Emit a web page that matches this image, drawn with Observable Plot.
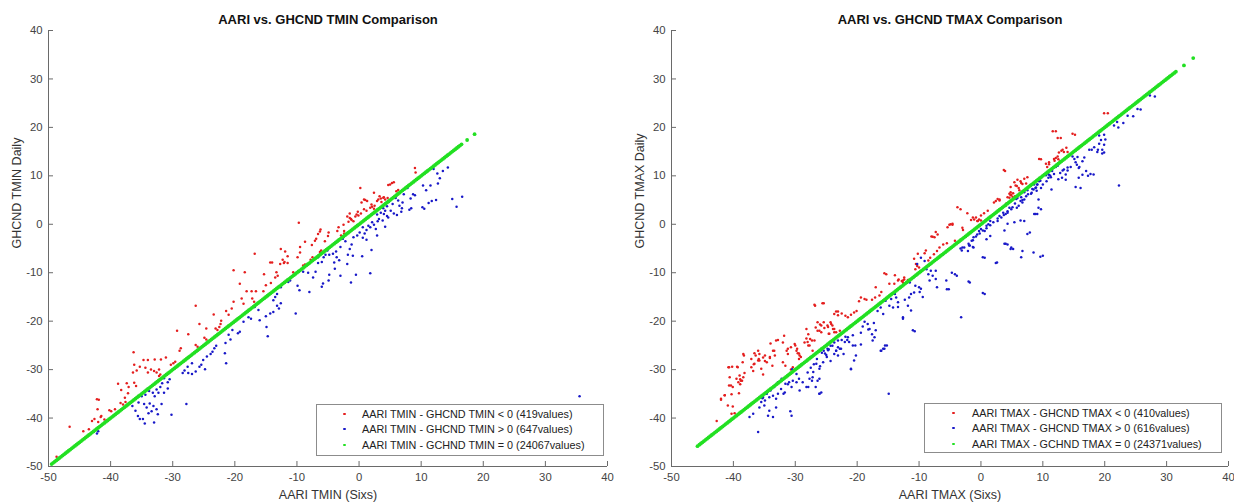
<!DOCTYPE html>
<html><head><meta charset="utf-8">
<script src="https://cdn.jsdelivr.net/npm/d3@7"></script>
<script src="https://cdn.jsdelivr.net/npm/@observablehq/plot@0.6"></script>
<style>
body{margin:0;background:#fff;}
#wrap{position:relative;width:1234px;height:504px;font-family:"Liberation Sans",Arial,sans-serif;overflow:hidden;}
.panel{position:absolute;top:0;}
.legend{position:absolute;border:1px solid #8c8c8c;background:#fff;font-size:10.8px;color:#222;box-sizing:border-box;}
.legend .dot{position:absolute;width:2.6px;height:2.6px;border-radius:50%;}
.legend .txt{position:absolute;}
</style></head>
<body><div id="wrap"></div>
<script>
// ---------- data ----------
const axisDomain = [-50, 40];
const tickValues = [-50, -40, -30, -20, -10, 0, 10, 20, 30, 40];

const tminTitle = "AARI vs. GHCND TMIN Comparison";
const tmaxTitle = "AARI vs. GHCND TMAX Comparison";
const tminXLabel = "AARI TMIN (Sixs)";
const tminYLabel = "GHCND TMIN Daily";
const tmaxXLabel = "AARI TMAX (Sixs)";
const tmaxYLabel = "GHCND TMAX Daily";
const tminLegend = ["AARI TMIN - GHCND TMIN < 0 (419values)", "AARI TMIN - GHCND TMIN > 0 (647values)", "AARI TMIN - GCHND TMIN = 0 (24067values)"];
const tmaxLegend = ["AARI TMAX - GHCND TMAX < 0 (410values)", "AARI TMAX - GHCND TMAX > 0 (616values)", "AARI TMAX - GCHND TMAX = 0 (24371values)"];

// TMIN: AARI (x) vs GHCND (y), AARI - GHCND < 0
const tminRed = [[9.0,11.6],[9.1,10.7],[5.6,8.7],[5.3,8.5],[5.0,8.2],[4.7,8.1],[0.2,7.5],[2.4,6.5],[0.8,5.1],[0.4,4.5],[3.1,5.1],[3.5,5.3],[3.9,5.5],[4.2,5.1],[3.6,4.6],[2.9,4.8],[2.1,3.6],[1.8,3.4],[2.4,3.2],[6.0,6.8],[6.3,7.1],[-9.7,0.3],[-1.5,1.3],[-1.2,0.9],[-1.7,0.5],[-0.6,1.6],[-0.9,0.6],[-0.1,1.8],[-3.3,-0.6],[-3.5,-1.4],[-2.5,-0.1],[-2.4,-1.4],[-2.4,-1.9],[-2.9,-2.3],[-6.3,-1.5],[-6.6,-2.0],[-6.9,-3.0],[-7.1,-3.4],[-5.5,-3.5],[-9.5,-4.7],[-7.8,-7.3],[-7.5,-6.8],[-6.1,-5.4],[-6.3,-5.7],[-16.8,-6.1],[-14.3,-7.9],[-14.0,-7.9],[-12.1,-8.0],[-20.2,-9.5],[-18.4,-9.9],[-15.3,-10.3],[-13.3,-9.9],[-13.1,-10.6],[-13.5,-11.0],[-14.2,-12.1],[-10.6,-9.9],[-9.0,-8.5],[-8.7,-8.3],[-19.2,-12.3],[-18.1,-13.8],[-17.3,-13.8],[-16.6,-13.8],[-15.0,-12.6],[-15.4,-13.8],[-20.2,-16.0],[-18.9,-15.3],[-18.6,-16.4],[-17.2,-15.3],[-16.9,-16.0],[-26.3,-16.8],[-23.4,-18.6],[-22.2,-19.9],[-22.3,-20.6],[-21.4,-17.9],[-21.0,-18.7],[-20.5,-17.4],[-25.7,-20.6],[-24.6,-21.5],[-23.1,-21.5],[-22.8,-21.8],[-22.5,-21.2],[-29.3,-22.0],[-27.5,-22.7],[-24.9,-23.4],[-24.6,-23.8],[-26.3,-24.9],[-26.0,-25.3],[-28.7,-25.6],[-28.9,-26.1],[-36.3,-26.4],[-31.1,-27.5],[-31.9,-27.9],[-32.9,-27.9],[-34.0,-28.0],[-29.6,-28.4],[-29.9,-28.7],[-30.3,-29.0],[-36.2,-29.0],[-35.3,-29.4],[-34.7,-28.0],[-34.4,-29.6],[-33.5,-30.0],[-33.0,-30.3],[-32.6,-30.6],[-32.2,-30.0],[-34.0,-30.6],[-35.8,-30.2],[-36.4,-30.6],[-32.2,-31.3],[-32.0,-31.0],[-38.8,-32.9],[-37.4,-32.8],[-37.1,-33.6],[-36.2,-32.7],[-35.9,-33.4],[-38.3,-34.2],[-37.2,-34.9],[-37.7,-35.8],[-41.9,-36.2],[-46.6,-41.8],[-43.5,-42.3],[-43.0,-40.6],[-42.6,-40.2],[-42.0,-40.8],[-41.6,-39.8],[-41.0,-40.3],[-41.5,-39.6],[-40.2,-38.4],[-38.4,-36.9],[-38.0,-37.2],[-37.6,-36.7],[-39.3,-38.2],[-39.9,-38.6],[-42.2,-36.1],[-42.1,-38.2],[-48.7,-48.0],[-44.4,-42.7],[3.3,5.8],[4.0,5.6],[4.6,5.4],[1.0,5.0],[1.3,4.8],[2.0,4.1],[2.5,3.8],[0.8,3.1],[1.2,2.8],[-0.2,2.6],[0.3,2.2],[-0.4,2.0],[-1.9,1.6],[-1.5,2.2],[-1.3,1.1],[-6.2,-1.1],[-5.0,-2.4],[-4.9,-1.7],[-7.6,-4.3],[-8.7,-3.6],[-9.5,-5.8],[-9.9,-6.8],[-12.6,-5.1],[-11.9,-5.6],[-11.5,-6.6],[-12.3,-7.3],[-12.0,-7.8],[-11.5,-8.0],[-12.7,-8.2]];

// TMIN: AARI - GHCND > 0
const tminBlue = [[12.0,11.4],[12.6,10.5],[12.7,8.4],[10.3,8.0],[15.0,5.2],[15.7,3.6],[16.6,5.7],[10.2,3.5],[10.5,3.2],[8.1,3.0],[8.4,3.3],[6.9,3.3],[8.7,6.2],[9.0,6.0],[8.3,5.3],[7.8,7.5],[7.2,6.2],[6.3,4.9],[5.9,5.4],[5.4,4.2],[4.5,3.7],[4.8,4.6],[4.2,2.8],[3.9,3.3],[5.1,2.8],[4.7,1.4],[4.5,1.7],[4.0,2.1],[3.5,2.4],[3.2,1.1],[2.9,2.0],[2.1,0.4],[1.5,-0.3],[0.6,-0.6],[1.2,-1.2],[0.1,-1.7],[-0.3,-2.3],[-0.9,-2.7],[0.9,-1.9],[0.0,-0.1],[1.8,-0.6],[2.9,-2.3],[1.2,-3.2],[2.0,-5.3],[0.5,-6.6],[-1.2,-4.2],[-1.5,-5.1],[-1.0,-6.5],[-1.8,-6.3],[-1.9,-8.2],[-0.5,-10.4],[-1.3,-12.0],[1.8,-10.1],[-3.0,-4.7],[-3.7,-5.6],[-4.2,-6.1],[-3.6,-6.8],[-4.8,-6.3],[-5.4,-6.3],[-5.7,-6.8],[-6.6,-6.8],[-3.9,-9.2],[-4.8,-10.4],[-4.9,-11.6],[-5.8,-12.2],[-7.4,-11.0],[-8.0,-14.0],[-6.6,-8.0],[-6.0,-7.8],[-9.9,-12.7],[-9.6,-13.6],[-10.2,-18.4],[-10.8,-10.8],[-11.1,-11.6],[-11.4,-11.9],[-12.6,-13.0],[-13.2,-14.4],[-13.5,-15.0],[-13.8,-15.7],[-13.2,-16.8],[-12.6,-16.3],[-12.9,-17.4],[-13.8,-18.1],[-14.3,-18.4],[-15.0,-19.0],[-16.2,-17.7],[-16.8,-17.1],[-16.0,-19.8],[-17.4,-19.5],[-17.8,-19.2],[-18.6,-20.1],[-14.9,-21.2],[-14.7,-23.1],[-20.4,-21.8],[-21.0,-22.8],[-20.7,-23.8],[-21.5,-24.5],[-21.6,-26.6],[-21.4,-28.7],[-19.5,-22.5],[-19.2,-22.2],[-23.3,-25.6],[-23.0,-25.1],[-23.6,-26.3],[-23.9,-26.8],[-24.5,-27.3],[-25.1,-28.0],[-25.4,-29.0],[-24.8,-29.9],[-25.7,-29.4],[-26.9,-28.7],[-27.6,-29.4],[-28.1,-30.2],[-28.4,-30.7],[-27.5,-30.7],[-26.9,-30.9],[-26.3,-30.4],[-30.5,-32.0],[-30.8,-32.6],[-31.4,-31.8],[-31.7,-32.8],[-32.0,-33.6],[-32.6,-34.1],[-33.2,-34.8],[-33.8,-34.4],[-34.4,-35.2],[-35.0,-35.5],[-32.9,-35.5],[-32.3,-34.8],[-31.4,-34.8],[-30.8,-33.9],[-42.2,-43.2],[-42.0,-42.7],[-35.3,-40.2],[-34.8,-40.2],[-34.5,-41.1],[-33.0,-40.9],[-32.4,-39.2],[-32.6,-38.2],[-33.4,-38.6],[-33.9,-39.0],[-34.2,-37.8],[-34.6,-37.1],[-33.7,-37.0],[-33.1,-37.5],[-31.8,-37.1],[-30.2,-39.3],[-27.8,-37.1],[-35.6,-39.6],[-36.0,-38.5],[-35.5,-36.8],[-36.5,-37.5],[35.5,-35.5],[6.5,3.8],[7.0,4.5],[5.6,2.2],[6.1,1.9],[6.8,2.6],[3.0,0.6],[2.4,-0.1],[3.8,0.8],[4.2,-0.5],[0.6,-2.8],[2.7,-1.0],[-2.2,-3.5],[-2.6,-3.0],[-5.1,-5.4],[-8.2,-10.0],[-9.0,-9.8],[-7.0,-9.8],[-3.2,-7.4],[-4.0,-7.9],[-6.0,-12.9],[-3.0,-10.6],[11.2,4.4],[11.7,4.8],[12.4,5.0],[10.8,7.0],[11.5,8.0],[13.0,9.5],[14.3,11.7],[13.5,11.0]];

// TMIN: AARI = GHCND (on the diagonal)
const tminGreen = [-49.5,-49.25,-49,-48.75,-48.5,-48.25,-48,-47.75,-47.5,-47.25,-47,-46.75,-46.5,-46.25,-46,-45.75,-45.5,-45.25,-45,-44.75,-44.5,-44.25,-44,-43.75,-43.5,-43.25,-43,-42.75,-42.5,-42.25,-42,-41.75,-41.5,-41.25,-41,-40.75,-40.5,-40.25,-40,-39.75,-39.5,-39.25,-39,-38.75,-38.5,-38.25,-38,-37.75,-37.5,-37.25,-37,-36.75,-36.5,-36.25,-36,-35.75,-35.5,-35.25,-35,-34.75,-34.5,-34.25,-34,-33.75,-33.5,-33.25,-33,-32.75,-32.5,-32.25,-32,-31.75,-31.5,-31.25,-31,-30.75,-30.5,-30.25,-30,-29.75,-29.5,-29.25,-29,-28.75,-28.5,-28.25,-28,-27.75,-27.5,-27.25,-27,-26.75,-26.5,-26.25,-26,-25.75,-25.5,-25.25,-25,-24.75,-24.5,-24.25,-24,-23.75,-23.5,-23.25,-23,-22.75,-22.5,-22.25,-22,-21.75,-21.5,-21.25,-21,-20.75,-20.5,-20.25,-20,-19.75,-19.5,-19.25,-19,-18.75,-18.5,-18.25,-18,-17.75,-17.5,-17.25,-17,-16.75,-16.5,-16.25,-16,-15.75,-15.5,-15.25,-15,-14.75,-14.5,-14.25,-14,-13.75,-13.5,-13.25,-13,-12.75,-12.5,-12.25,-12,-11.75,-11.5,-11.25,-11,-10.75,-10.5,-10.25,-10,-9.75,-9.5,-9.25,-9,-8.75,-8.5,-8.25,-8,-7.75,-7.5,-7.25,-7,-6.75,-6.5,-6.25,-6,-5.75,-5.5,-5.25,-5,-4.75,-4.5,-4.25,-4,-3.75,-3.5,-3.25,-3,-2.75,-2.5,-2.25,-2,-1.75,-1.5,-1.25,-1,-0.75,-0.5,-0.25,0,0.25,0.5,0.75,1,1.25,1.5,1.75,2,2.25,2.5,2.75,3,3.25,3.5,3.75,4,4.25,4.5,4.75,5,5.25,5.5,5.75,6,6.25,6.5,6.75,7,7.25,7.5,7.75,8,8.25,8.5,8.75,9,9.25,9.5,9.75,10,10.25,10.5,10.75,11,11.25,11.5,11.75,12,12.25,12.5,12.75,13,13.25,13.5,13.75,14,14.25,14.5,14.75,15,15.25,15.5,15.75,16,16.25,16.5,17.4,18.6];

// TMAX: AARI - GHCND < 0
const tmaxRed = [[20.5,22.9],[12.1,19.2],[12.9,17.8],[15.2,18.5],[13.0,15.2],[13.4,14.9],[12.6,14.8],[13.8,15.8],[12.1,13.7],[12.5,13.4],[12.8,13.0],[11.9,13.1],[11.0,12.4],[10.7,11.8],[9.7,13.4],[3.9,11.0],[6.7,8.3],[6.4,8.9],[7.3,8.4],[5.8,7.9],[6.1,7.5],[4.9,6.1],[5.2,6.4],[5.5,5.8],[4.6,5.5],[4.8,6.0],[2.4,4.8],[3.0,5.1],[2.1,4.5],[4.0,3.8],[4.1,4.3],[-1.3,1.4],[-1.1,1.0],[-0.6,0.7],[-0.3,1.0],[0.0,0.8],[-3.3,3.1],[-4.9,0.0],[-4.6,-0.1],[-3.0,-0.7],[-2.9,-1.2],[-7.8,-2.6],[-4.2,-3.4],[-5.5,-3.9],[-6.1,-4.2],[-6.7,-4.8],[-7.1,-5.5],[-7.6,-6.2],[-8.2,-6.9],[-8.5,-7.5],[-10.3,-8.6],[-10.0,-8.9],[-10.6,-9.3],[-15.3,-10.3],[-13.9,-10.5],[-13.3,-11.4],[-12.8,-11.7],[-12.4,-11.4],[-12.6,-12.0],[-17.0,-13.0],[-16.1,-14.0],[-16.4,-14.7],[-17.1,-15.1],[-17.6,-15.6],[-19.4,-15.1],[-18.8,-15.4],[-18.5,-15.6],[-19.7,-15.9],[-26.8,-16.8],[-25.4,-16.3],[-23.1,-18.0],[-23.7,-18.5],[-22.5,-18.4],[-21.9,-18.9],[-20.5,-18.2],[-20.1,-17.9],[-21.0,-18.7],[-21.5,-19.2],[-25.4,-20.2],[-24.8,-20.9],[-26.0,-20.7],[-26.7,-21.3],[-26.4,-22.0],[-25.8,-22.3],[-24.3,-20.2],[-24.0,-20.9],[-23.7,-21.6],[-23.4,-22.3],[-22.8,-22.0],[-24.6,-22.6],[-28.2,-21.6],[-27.9,-22.7],[-27.6,-23.7],[-27.3,-24.0],[-28.5,-24.4],[-27.9,-25.0],[-31.8,-23.0],[-33.1,-24.0],[-34.0,-24.6],[-33.4,-26.1],[-30.0,-25.0],[-29.7,-25.7],[-29.4,-26.7],[-29.1,-27.4],[-31.4,-26.1],[-31.2,-26.8],[-35.8,-26.8],[-36.4,-27.1],[-35.2,-27.5],[-34.9,-28.2],[-34.6,-28.5],[-34.1,-27.6],[-33.7,-29.2],[-38.4,-26.8],[-36.7,-28.9],[-35.8,-28.1],[-40.8,-29.5],[-39.3,-29.5],[-40.6,-31.6],[-38.9,-32.0],[-38.6,-32.3],[-39.2,-32.6],[-38.9,-33.0],[-40.1,-33.6],[-40.7,-33.3],[-42.0,-36.0],[-41.4,-35.3],[-32.0,-28.5],[-31.6,-29.2],[-30.4,-29.5],[-30.7,-30.0],[-29.4,-27.8],[-42.7,-40.6],[-42.0,-36.2],[-40.9,-37.4],[-40.1,-37.6],[-40.3,-39.1],[-39.8,-39.0],[-41.4,-35.3],[-40.3,-35.1],[-39.1,-34.9],[-40.4,-33.3],[-39.5,-31.9],[-39.0,-31.2],[-38.4,-31.6],[-38.8,-32.3],[-38.2,-30.7],[-40.2,-29.4],[-40.7,-29.5],[-39.4,-29.4],[-38.5,-28.5],[-37.1,-29.5],[-36.8,-30.3],[-36.6,-28.8],[-36.0,-28.1],[-35.5,-29.8],[-35.2,-31.0],[-35.9,-27.8],[-37.1,-27.8],[-36.0,-26.1],[-34.9,-27.1],[-34.1,-27.4],[-33.6,-26.1],[-33.3,-27.1],[-32.8,-23.9],[-32.0,-24.4],[-31.2,-25.7],[-30.7,-25.4],[-30.1,-24.7],[-29.8,-26.1],[-29.6,-26.6],[-29.3,-27.1],[-38.3,-27.1],[-36.6,-26.6],[-26.9,-16.6],[-25.6,-16.3],[-23.4,-18.0],[-23.1,-18.8],[-26.4,-20.2],[-25.8,-20.9],[-25.3,-21.4],[-26.1,-22.0],[-24.7,-21.2],[-24.2,-20.6],[-23.9,-21.6],[-24.5,-22.6],[-23.7,-22.3],[-28.0,-24.3],[-27.7,-25.0],[-27.2,-26.1],[-26.9,-24.0],[-28.2,-23.6],[19.9,22.9],[11.6,19.2],[12.4,17.8],[14.8,18.7],[13.2,15.4],[14.0,14.9],[12.4,14.0],[11.8,13.5],[11.0,12.8],[10.5,12.5],[9.4,13.5],[3.7,11.2],[5.4,8.7],[5.6,8.0],[4.8,7.7],[6.2,7.0],[6.5,8.5],[7.0,9.4],[7.5,9.7],[5.9,9.2],[4.6,6.3],[4.8,6.6],[5.1,5.7],[4.3,5.6],[2.7,5.2],[3.0,4.9],[0.5,2.3],[1.1,2.8],[0.0,1.8],[-3.8,3.5],[-2.2,2.3],[-1.6,0.9],[-0.8,1.4],[-0.5,0.7],[-5.1,-0.1],[-5.4,-0.6],[-4.6,0.1],[-8.0,-2.5],[-7.3,-1.6],[-7.0,-2.1],[-7.5,-2.7],[-9.1,-6.0],[-8.9,-5.4],[-10.2,-6.1],[-10.8,-7.1],[-10.5,-8.2],[-12.4,-11.0],[-12.6,-11.6],[-13.4,-11.6],[-14.0,-12.3],[-14.8,-12.3],[-15.6,-10.1],[-11.8,-11.5]];

// TMAX: AARI - GHCND > 0
const tmaxBlue = [[28.1,26.4],[25.8,23.7],[24.6,22.3],[22.2,20.0],[23.0,20.9],[19.9,18.5],[20.1,17.5],[19.9,16.4],[19.6,15.4],[19.9,14.8],[19.6,14.6],[17.9,15.4],[17.3,10.0],[18.2,10.3],[15.8,9.6],[16.1,7.5],[15.5,12.3],[16.4,13.0],[16.7,13.8],[15.8,11.6],[17.0,11.0],[14.0,11.7],[13.4,11.3],[12.8,10.6],[13.7,10.3],[13.1,9.6],[12.5,9.3],[11.0,10.2],[11.5,11.0],[11.2,10.0],[10.6,8.9],[10.9,9.6],[9.4,8.9],[9.1,8.2],[9.7,7.5],[10.0,8.2],[8.8,7.5],[8.5,7.2],[9.0,6.9],[8.2,6.5],[11.4,7.2],[9.3,5.1],[9.7,3.1],[7.3,5.8],[7.0,5.1],[6.7,4.5],[6.4,4.8],[7.6,6.2],[6.1,3.8],[5.8,3.4],[5.5,4.3],[4.9,3.1],[4.3,2.7],[4.0,2.1],[3.3,1.4],[2.7,0.7],[3.0,1.7],[3.6,2.4],[4.6,3.4],[9.1,2.1],[8.8,2.1],[7.0,0.7],[7.9,-1.7],[6.7,-5.5],[8.5,-5.8],[10.0,-6.5],[4.0,-4.0],[4.3,-4.2],[4.9,-4.8],[5.2,-5.1],[0.6,-6.9],[2.6,-7.9],[1.5,0.7],[1.2,0.0],[0.9,-0.3],[0.0,-1.0],[-0.3,-1.4],[-0.6,-2.1],[0.6,-1.4],[-1.2,-2.7],[-1.5,-3.4],[-1.8,-4.4],[-1.2,-4.8],[-2.1,-5.5],[-3.0,-4.8],[1.5,-2.4],[0.9,-3.1],[-4.2,-10.3],[-3.9,-10.6],[-1.8,-12.0],[0.6,-14.4],[-3.2,-19.2],[-5.2,-13.4],[-7.3,-9.6],[-8.5,-10.3],[-8.8,-9.3],[-9.1,-7.6],[-9.7,-6.9],[-10.3,-8.2],[-6.1,-6.2],[-10.9,-11.0],[-11.5,-12.0],[-10.6,-12.7],[-10.0,-13.0],[-9.4,-15.0],[-13.9,-14.4],[-14.5,-15.4],[-13.4,-16.1],[-14.2,-17.2],[-15.4,-15.8],[-16.2,-17.2],[-16.7,-17.9],[-15.8,-18.5],[-14.8,-16.8],[-13.7,-15.1],[-12.6,-19.2],[-10.7,-22.1],[-19.1,-21.1],[-18.8,-20.1],[-19.4,-22.4],[-18.2,-21.7],[-17.6,-22.7],[-17.3,-20.4],[-15.2,-25.0],[-15.8,-25.7],[-16.1,-26.1],[-21.0,-29.9],[-20.3,-25.0],[-21.9,-23.2],[-21.6,-23.9],[-20.7,-22.9],[-21.3,-24.3],[-22.5,-23.9],[-23.7,-24.4],[-24.3,-25.1],[-24.8,-25.7],[-25.4,-26.1],[-25.7,-26.5],[-24.6,-25.8],[-24.0,-25.1],[-23.1,-25.4],[-23.4,-26.1],[-22.8,-25.7],[-22.2,-26.8],[-23.1,-27.1],[-23.7,-26.8],[-30.5,-29.9],[-29.8,-30.9],[-29.4,-31.9],[-30.4,-32.3],[-31.0,-32.6],[-31.6,-32.9],[-32.2,-31.9],[-32.8,-32.6],[-33.4,-33.6],[-34.0,-34.3],[-34.6,-35.0],[-35.2,-35.7],[-28.8,-32.6],[-28.2,-33.6],[-27.3,-32.3],[-26.7,-33.6],[-26.1,-31.9],[-25.8,-34.7],[-31.9,-35.0],[-26.1,-35.0],[-14.9,-35.0],[-26.5,-27.8],[-27.0,-28.9],[-26.0,-29.3],[-25.5,-28.5],[-27.5,-29.6],[-28.0,-30.6],[-25.0,-27.0],[-24.3,-28.2],[-36.0,-42.9],[-37.4,-39.8],[-36.8,-39.1],[-35.8,-37.8],[-35.0,-37.4],[-34.2,-38.5],[-34.4,-39.5],[-33.6,-39.8],[-33.1,-37.8],[-30.8,-38.6],[-30.6,-39.5],[-35.3,-35.9],[-35.5,-36.7],[-34.9,-36.4],[-34.2,-35.7],[-33.6,-35.4],[-33.1,-36.0],[-32.8,-35.0],[-32.3,-34.0],[-31.7,-34.7],[-31.2,-33.0],[-30.6,-33.6],[-29.8,-32.6],[-29.3,-34.3],[-27.9,-33.6],[-27.7,-31.9],[-27.2,-31.6],[-26.1,-35.0],[-26.4,-32.3],[-21.0,-29.8],[-20.5,-28.1],[-20.2,-27.1],[-19.4,-24.8],[-20.7,-25.0],[-17.5,-24.0],[-17.2,-23.3],[-17.0,-21.9],[-18.0,-21.6],[-18.3,-20.6],[-16.2,-26.1],[-15.6,-25.7],[-15.5,-25.0],[-11.0,-21.9],[-11.3,-17.8],[-11.8,-16.8],[-12.6,-19.5],[-13.4,-17.1],[-22.0,-24.3],[-21.5,-23.3],[-22.6,-25.7],[-23.4,-26.1],[-23.1,-24.0],[-25.2,-26.7],[-24.7,-26.0],[-24.9,-27.4],[-26.6,-28.8],[-26.1,-29.8],[-27.1,-30.5],[27.3,26.6],[25.3,23.8],[23.7,22.4],[21.5,20.4],[22.0,21.1],[19.1,18.3],[19.4,17.4],[19.1,16.6],[18.9,15.4],[18.8,14.9],[18.3,15.9],[17.5,15.4],[16.4,10.2],[17.7,10.4],[15.6,13.9],[15.1,13.5],[14.8,14.0],[15.3,12.8],[15.9,11.8],[14.5,11.8],[14.0,11.1],[13.7,9.2],[15.3,7.7],[13.2,11.1],[12.4,12.1],[12.1,11.8],[11.8,10.4],[11.3,9.7],[10.8,10.5],[10.5,10.1],[8.6,8.2],[9.1,8.2],[9.6,9.0],[8.9,7.6],[8.3,7.3],[7.5,7.0],[8.1,6.3],[7.0,6.6],[6.5,5.6],[5.9,5.4],[6.7,5.0],[5.7,5.2],[9.3,3.4],[8.6,2.1],[7.5,-2.0],[6.4,0.8],[5.4,0.4],[4.3,0.1],[3.8,-1.3],[3.8,-4.0],[4.8,-5.1],[6.5,-6.8],[9.6,-6.7],[0.3,-6.8],[2.4,-8.0],[5.1,3.5],[4.3,2.4],[3.7,1.9],[2.7,1.2],[2.0,0.4],[1.5,-0.2],[0.9,-0.8],[0.3,-1.3],[-0.2,-1.9],[-0.8,-2.5],[-1.3,-3.3],[-2.0,-4.0],[-2.7,-4.8],[-3.1,-5.4],[-1.9,-4.4],[-1.3,-4.7],[-3.3,-5.0],[-4.7,-10.0],[-5.6,-11.6],[-2.0,-11.8],[-7.1,-13.0],[-5.5,-13.4],[0.3,-14.2],[-9.7,-13.3],[-10.8,-14.1],[-11.3,-14.4],[-11.6,-15.1],[-12.3,-15.6],[-8.1,-9.6],[-7.8,-10.6],[-7.3,-11.3],[-8.3,-11.6],[-9.9,-14.0],[22.3,8.0]];

// TMAX: AARI = GHCND (on the diagonal)
const tmaxGreen = [-45.8,-45.5,-45.25,-45,-44.75,-44.5,-44.25,-44,-43.75,-43.5,-43.25,-43,-42.75,-42.5,-42.25,-42,-41.75,-41.5,-41.25,-41,-40.75,-40.5,-40.25,-40,-39.75,-39.5,-39.25,-39,-38.75,-38.5,-38.25,-38,-37.75,-37.5,-37.25,-37,-36.75,-36.5,-36.25,-36,-35.75,-35.5,-35.25,-35,-34.75,-34.5,-34.25,-34,-33.75,-33.5,-33.25,-33,-32.75,-32.5,-32.25,-32,-31.75,-31.5,-31.25,-31,-30.75,-30.5,-30.25,-30,-29.75,-29.5,-29.25,-29,-28.75,-28.5,-28.25,-28,-27.75,-27.5,-27.25,-27,-26.75,-26.5,-26.25,-26,-25.75,-25.5,-25.25,-25,-24.75,-24.5,-24.25,-24,-23.75,-23.5,-23.25,-23,-22.75,-22.5,-22.25,-22,-21.75,-21.5,-21.25,-21,-20.75,-20.5,-20.25,-20,-19.75,-19.5,-19.25,-19,-18.75,-18.5,-18.25,-18,-17.75,-17.5,-17.25,-17,-16.75,-16.5,-16.25,-16,-15.75,-15.5,-15.25,-15,-14.75,-14.5,-14.25,-14,-13.75,-13.5,-13.25,-13,-12.75,-12.5,-12.25,-12,-11.75,-11.5,-11.25,-11,-10.75,-10.5,-10.25,-10,-9.75,-9.5,-9.25,-9,-8.75,-8.5,-8.25,-8,-7.75,-7.5,-7.25,-7,-6.75,-6.5,-6.25,-6,-5.75,-5.5,-5.25,-5,-4.75,-4.5,-4.25,-4,-3.75,-3.5,-3.25,-3,-2.75,-2.5,-2.25,-2,-1.75,-1.5,-1.25,-1,-0.75,-0.5,-0.25,0,0.25,0.5,0.75,1,1.25,1.5,1.75,2,2.25,2.5,2.75,3,3.25,3.5,3.75,4,4.25,4.5,4.75,5,5.25,5.5,5.75,6,6.25,6.5,6.75,7,7.25,7.5,7.75,8,8.25,8.5,8.75,9,9.25,9.5,9.75,10,10.25,10.5,10.75,11,11.25,11.5,11.75,12,12.25,12.5,12.75,13,13.25,13.5,13.75,14,14.25,14.5,14.75,15,15.25,15.5,15.75,16,16.25,16.5,16.75,17,17.25,17.5,17.75,18,18.25,18.5,18.75,19,19.25,19.5,19.75,20,20.25,20.5,20.75,21,21.25,21.5,21.75,22,22.25,22.5,22.75,23,23.25,23.5,23.75,24,24.25,24.5,24.75,25,25.25,25.5,25.75,26,26.25,26.5,26.75,27,27.25,27.5,27.75,28,28.25,28.5,28.75,29,29.25,29.5,29.75,30,30.25,30.5,30.75,31,31.25,31.5,32.8,34.3];

// ---------- style ----------
const RED = "#e41e1e", BLUE = "#1818c8", GREEN = "#22e022";
const FONT = "Liberation Sans, Arial, Helvetica, sans-serif";

function panel(o) {
  return Plot.plot({
    width: 617, height: 504,
    marginTop: 30, marginBottom: 38, marginLeft: o.ml, marginRight: o.mr,
    x: {domain: axisDomain},
    y: {domain: axisDomain},
    style: {fontFamily: FONT, fontSize: "11.3px", color: "#444", background: "transparent", overflow: "visible"},
    marks: [
      Plot.ruleY([axisDomain[0]], {stroke: "#6a6a6a", strokeWidth: 1}),
      Plot.ruleX([axisDomain[0]], {stroke: "#6a6a6a", strokeWidth: 1}),
      Plot.axisX(tickValues, {tickSize: -5, tickPadding: 11, tickFormat: d => String(d), label: null, stroke: "#6a6a6a", fill: "#444"}),
      Plot.axisY(tickValues, {tickSize: -5, tickPadding: 11, tickFormat: d => String(d), label: null, stroke: "#6a6a6a", fill: "#444"}),
      Plot.dot(o.red, {x: d => d[0], y: d => d[1], r: 1.25, fill: RED, stroke: null}),
      Plot.dot(o.blue, {x: d => d[0], y: d => d[1], r: 1.25, fill: BLUE, stroke: null}),
      Plot.dot(o.green, {x: d => d, y: d => d, r: 1.9, fill: GREEN, stroke: null}),
      Plot.text([o.title], {text: d => d, frameAnchor: "top", dy: -16, fontWeight: "bold", fontSize: 13, fill: "#111"}),
      Plot.text([o.xLabel], {text: d => d, frameAnchor: "bottom", dy: 32, fontSize: 12.5, fill: "#333"}),
      Plot.text([o.yLabel], {text: d => d, frameAnchor: "left", dx: -32, rotate: -90, fontSize: 12.5, fill: "#333"})
    ]
  });
}

function legend(labels, box) {
  const el = document.createElement("div");
  el.className = "legend";
  Object.assign(el.style, {left: box.left + "px", top: box.top + "px", width: box.width + "px", height: box.height + "px"});
  const colors = [RED, BLUE, GREEN];
  labels.forEach((t, i) => {
    const cy = box.rowY[i];
    const dot = document.createElement("div");
    dot.className = "dot";
    Object.assign(dot.style, {left: box.dotX + "px", top: (cy - 1.3) + "px", background: colors[i]});
    const txt = document.createElement("div");
    txt.className = "txt";
    txt.textContent = t;
    Object.assign(txt.style, {left: box.textX + "px", top: (cy - 6.5) + "px", lineHeight: "13px", whiteSpace: "nowrap"});
    el.append(dot, txt);
  });
  return el;
}

const wrap = document.getElementById("wrap");
const left = panel({red: tminRed, blue: tminBlue, green: tminGreen, title: tminTitle, xLabel: tminXLabel, yLabel: tminYLabel, ml: 48, mr: 10});
left.classList.add("panel"); left.style.left = "0px";
const right = panel({red: tmaxRed, blue: tmaxBlue, green: tmaxGreen, title: tmaxTitle, xLabel: tmaxXLabel, yLabel: tmaxYLabel, ml: 54, mr: 6});
right.classList.add("panel"); right.style.left = "617px";
wrap.append(left, right);
wrap.append(legend(tminLegend, {left: 316, top: 404, width: 288, height: 52, dotX: 26, textX: 45, rowY: [9, 24, 40]}));
wrap.append(legend(tmaxLegend, {left: 924, top: 403, width: 298, height: 50, dotX: 27, textX: 47, rowY: [9, 24, 40]}));
</script>
</body></html>
